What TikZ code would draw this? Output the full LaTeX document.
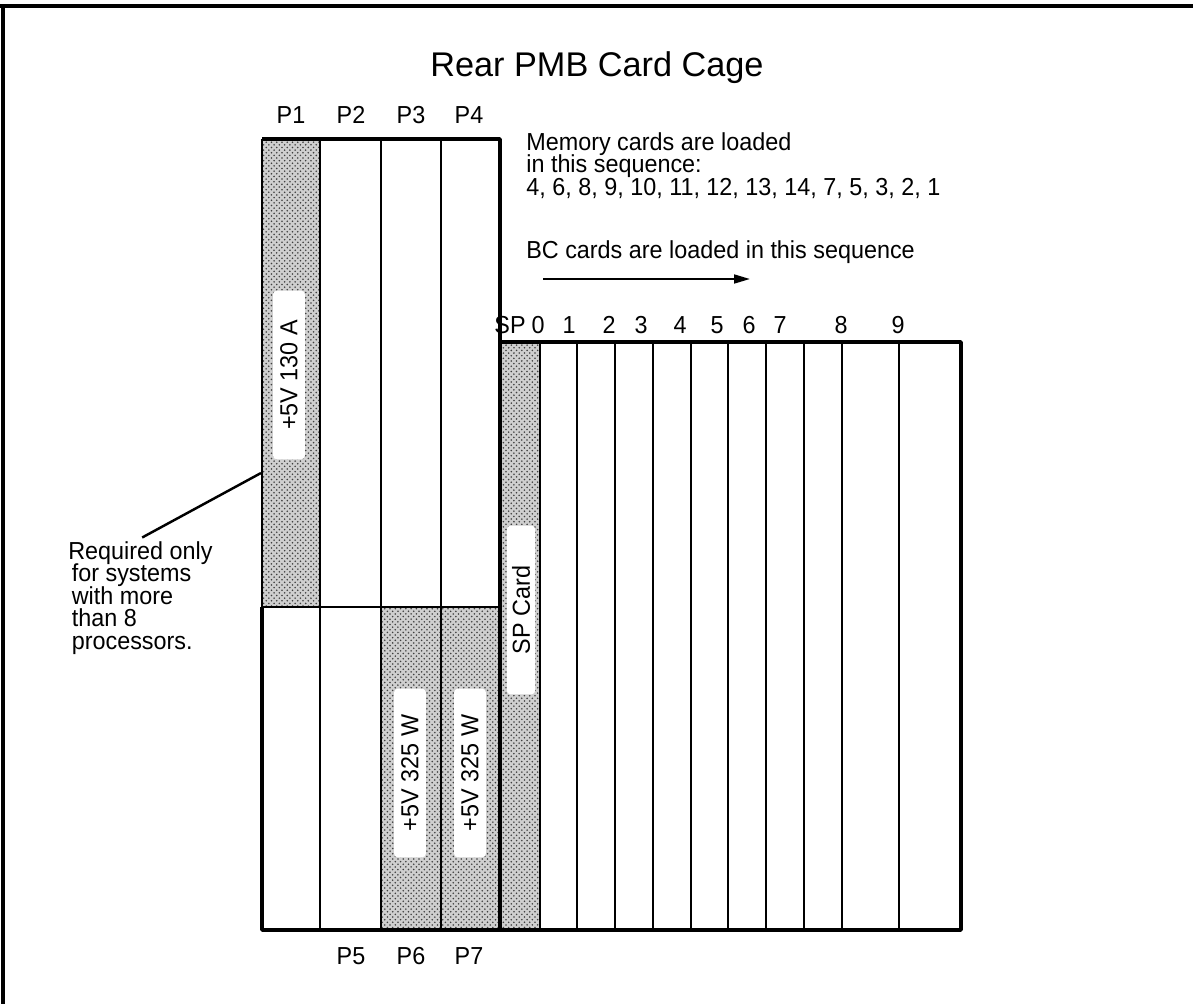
\documentclass[tikz,border=0pt]{standalone}
\usepackage{fontspec}
\setmainfont{Liberation Sans}
\newfontfamily\cagefamily[FakeStretch=0.95]{Liberation Sans}
\usetikzlibrary{arrows.meta,patterns}

\newcommand\cagefont{\cagefamily\fontsize{14}{12.8}\selectfont\lineskiplimit=-20pt}

\begin{document}
\begin{tikzpicture}[x=0.02cm,y=-0.02cm,>={Triangle[length=9pt,width=5pt]},line join=round,
  dither/.style={preaction={fill=gray!38},pattern=crosshatch dots,pattern color=black!75},
  rail/.style={line width=1.2pt},
  wall/.style={line width=2pt},
  tag/.style={rotate=90,fill=white,rounded corners=2pt,minimum width=96pt,
              minimum height=18pt,inner sep=0pt,font=\cagefont},
  lbl/.style={font=\cagefont,inner sep=0pt},
  slotname/.style={lbl,anchor=base}]

\useasboundingbox (0,0) rectangle (1193,1004);
%% sheet edge, only top and left show
\draw[line width=2.2pt] (0,6) -- (3,6) -- (3,1004);
\draw[line width=2.2pt] (0,6) -- (1193,6);

\node[font=\fontsize{19.5}{22}\selectfont,inner sep=0pt] (title) at (597,68) {Rear PMB Card Cage};

%% ---------------- shaded slots ----------------
\fill[dither] (262,139) rectangle (320,607);  % P1
\fill[dither] (381,607) rectangle (441,930);  % P6
\fill[dither] (441,607) rectangle (500,930);  % P7
\fill[dither] (500,342) rectangle (540,930);  % SP

%% ---------------- power cage (left) ----------------
\draw[line width=0.8pt] (262,607) -- (262,139);
\draw[rail] (262,607) -- (500,607);
\foreach \xx in {320,381,441}
  \draw[rail] (\xx,139) -- (\xx,930);

%% ---------------- card slots (right) ----------------
\foreach \xx in {540,577,615,653,691,728,766,804,842,899}
  \draw[rail] (\xx,342) -- (\xx,930);
\draw[wall] (500,342) -- (500,930);
\draw[wall] (262,607) -- (262,930) -- (961,930) -- (961,342) -- (500,342)
  -- (500,139) -- (262,139);

%% slot names
\foreach \nm/\xx [count=\i] in {P1/291,P2/351,P3/411,P4/469}
  \node[slotname] (ptop\i) at (\xx,123) {\nm};
\foreach \nm/\xx [count=\i from 5] in {P5/351,P6/411,P7/469}
  \node[slotname] (pbot\i) at (\xx,964) {\nm};
\foreach \nm/\xx [count=\i] in {SP/510,0/538,1/569,2/609,3/641,4/680,5/717,6/749,7/780,8/841,9/898}
  \node[slotname] (slot\i) at (\xx,333) {\nm};

%% supply tags
\node[tag] (tagA) at (289,375) {+5V 130 A};
\node[tag] (tagW) at (410,773) {+5V 325 W};
\node[tag] (tagV) at (470,773) {+5V 325 W};
\node[tag,minimum height=16pt] (tagSP) at (521,610) {SP Card};

%% loading order
\node[lbl,align=left,anchor=north west] (memo) at (526,132)
  {Memory cards are loaded\\in this sequence:\\4, 6, 8, 9, 10, 11, 12, 13, 14, 7, 5, 3, 2, 1};
\node[lbl,anchor=base west] (bcnote) at (526,258) {BC cards are loaded in this sequence};
\coordinate (arrS) at (543,279);
\coordinate (arrE) at (750,279);
\draw[->,line width=1.2pt] (arrS) -- (arrE);

%% note about P1
\node[lbl,align=left,anchor=north west] (note) at (68,541)
  {Required only\\\hspace{2pt}for systems\\\hspace{2pt}with more\\\hspace{2pt}than 8\\\hspace{2pt}processors.};
\coordinate (p1tip) at (261,473);
\draw[line width=1.4pt] ([xshift=1pt,yshift=2pt]note.north) -- (p1tip);

\end{tikzpicture}
\end{document}
